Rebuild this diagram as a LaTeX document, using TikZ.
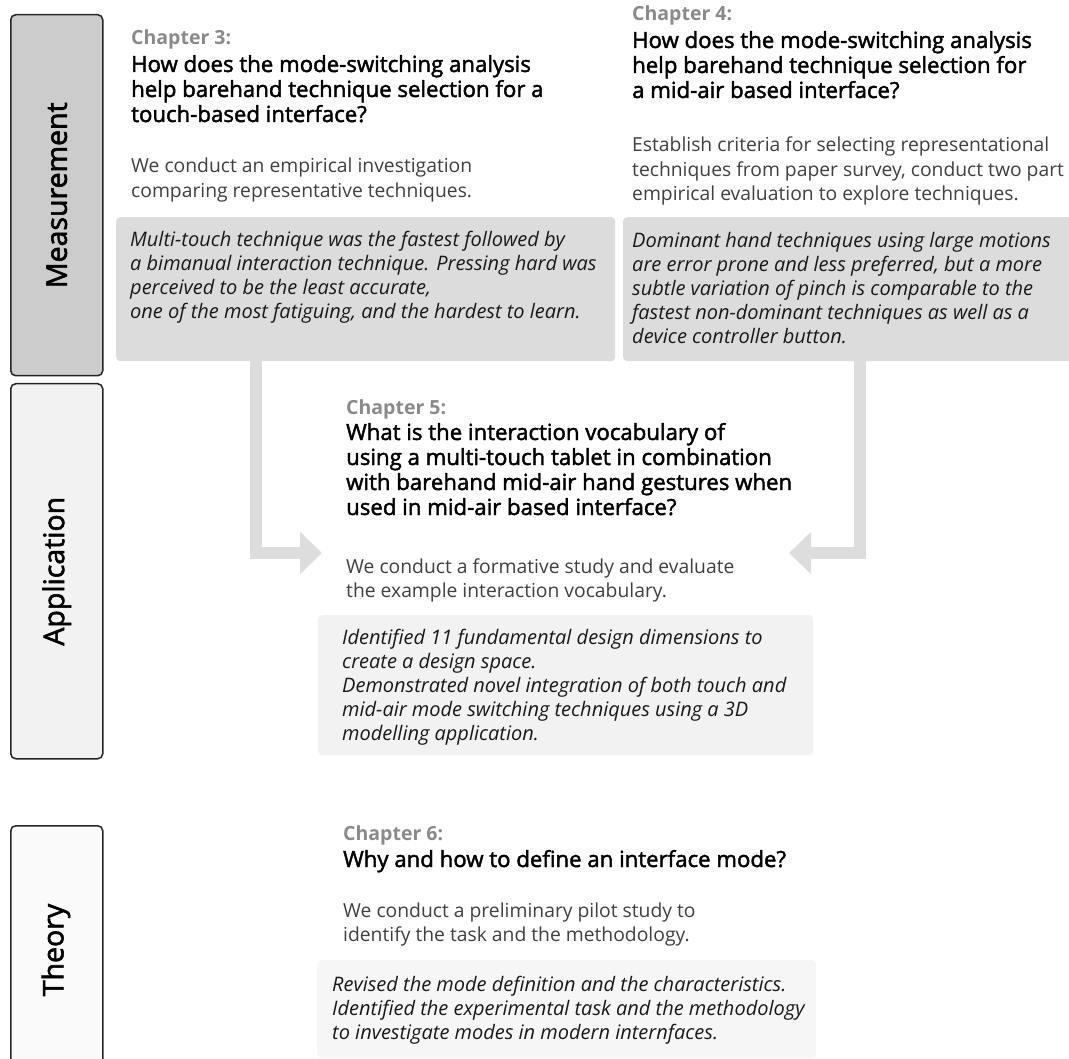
\documentclass[tikz,border=0pt]{standalone}
\usepackage{fontspec}
\setmainfont{Open Sans}
\newfontfamily\semibf[FakeBold=2]{Open Sans}
\usetikzlibrary{positioning,arrows.meta}
\definecolor{measfill}{HTML}{CCCCCC}
\definecolor{appfill}{HTML}{F2F2F2}
\definecolor{theofill}{HTML}{FAFAFA}
\definecolor{darkfind}{HTML}{DCDCDC}
\definecolor{lightfind}{HTML}{F2F2F2}
\definecolor{palefind}{HTML}{F6F6F6}
\definecolor{flowgray}{HTML}{DDDDDD}
\definecolor{chapgray}{HTML}{8A8A8A}
\definecolor{descgray}{HTML}{404040}

\begin{document}
\begin{tikzpicture}[x=1pt,y=-1pt,
    bar/.style={draw=black!85,line width=1.5pt,rounded corners=5pt,anchor=north west,minimum width=92pt},
    barlabel/.style={rotate=90,inner sep=0pt,font=\semibf\fontsize{28.5}{32}\selectfont},
    findbox/.style={rounded corners=4pt,anchor=north west,inner sep=0pt},
    chap/.style={anchor=base west,inner sep=0pt,text=chapgray,font=\bfseries\fontsize{19.5}{22}\selectfont},
    quest/.style={anchor=base west,inner sep=0pt,align=left,font=\semibf\fontsize{22.2}{25}\selectfont},
    desc/.style={anchor=base west,inner sep=0pt,align=left,text=descgray,font=\fontsize{19.3}{24.5}\selectfont},
    find/.style={anchor=base west,inner sep=0pt,align=left,text=black!90,font=\itshape\fontsize{20}{24}\selectfont},
    flow/.style={draw=flowgray,line width=12pt,line join=miter,-{Triangle[length=22pt,width=41pt]}}]
\useasboundingbox (0,0) rectangle (1069,1059);
\clip (0,0) rectangle (1069,1059);

% side bars
\node[bar,fill=measfill,minimum height=361pt] (meas) at (10,14) {};
\node[barlabel] at (meas.center) {Measurement};
\node[bar,fill=appfill,minimum height=375pt] (appl) at (10,383) {};
\node[barlabel] at (appl.center) {Application};
\node[bar,fill=theofill,minimum height=260pt] (theo) at (10,825) {};
\node[barlabel] at (56,950) {Theory};

% finding boxes
\node[findbox,fill=darkfind,minimum width=499pt,minimum height=144pt] (b3) at (116,217) {};
\node[findbox,fill=darkfind,minimum width=460pt,minimum height=144pt] (b4) at (623,217) {};
\node[findbox,fill=lightfind,minimum width=495pt,minimum height=140pt] (b5) at (318,615) {};
\node[findbox,fill=palefind,minimum width=499pt,minimum height=98pt] (b6) at (317,960) {};

% chapter 3 (multi-line nodes sit on their last baseline)
\node[chap] (c3) at (131,45) {Chapter 3:};
\node[quest] (q3) at (131,72+2*25) {How does the mode-switching analysis\\help barehand technique selection for a\\touch-based interface?};
\node[desc] (d3) at (131,173+24.5) {We conduct an empirical investigation\\comparing representative techniques.};
\node[find] (f3) at (130,247+3*24) {Multi-touch technique was the fastest followed by\\a bimanual interaction technique. Pressing hard was\\perceived to be the least accurate,\\one of the most fatiguing, and the hardest to learn.};

% chapter 4
\node[chap] (c4) at (632,21) {Chapter 4:};
\node[quest] (q4) at (632,48+2*25) {How does the mode-switching analysis\\help barehand technique selection for\\a mid-air based interface?};
\node[desc] (d4) at (632,152+2*24.5) {Establish criteria for selecting representational\\techniques from paper survey, conduct two part\\empirical evaluation to explore techniques.};
\node[find] (f4) at (632,248+4*24) {Dominant hand techniques using large motions\\are error prone and less preferred, but a more\\subtle variation of pinch is comparable to the\\fastest non-dominant techniques as well as a\\device controller button.};

% chapter 5
\node[chap] (c5) at (346,414) {Chapter 5:};
\node[quest] (q5) at (346,440+3*25) {What is the interaction vocabulary of\\using a multi-touch tablet in combination\\with barehand mid-air hand gestures when\\used in mid-air based interface?};
\node[desc] (d5) at (346,573+24.5) {We conduct a formative study and evaluate\\the example interaction vocabulary.};
\node[find] (f5) at (342,644+4*24) {Identified 11 fundamental design dimensions to\\create a design space.\\Demonstrated novel integration of both touch and\\mid-air mode switching techniques using a 3D\\modelling application.};

% chapter 6
\node[chap] (c6) at (343,840) {Chapter 6:};
\node[quest] (q6) at (343,867) {Why and how to define an interface mode?};
\node[desc] (d6) at (343,917+24.5) {We conduct a preliminary pilot study to\\identify the task and the methodology.};
\node[find] (f6) at (332,991+2*24) {Revised the mode definition and the characteristics.\\Identified the experimental task and the methodology\\to investigate modes in modern internfaces.};

% arrows into chapter 5
\coordinate (in5l) at (322,553);
\coordinate (in5r) at (789,553);
\draw[flow] ([xshift=140pt]b3.south west) |- (in5l);
\draw[flow] ([xshift=237pt]b4.south west) |- (in5r);
\end{tikzpicture}
\end{document}
